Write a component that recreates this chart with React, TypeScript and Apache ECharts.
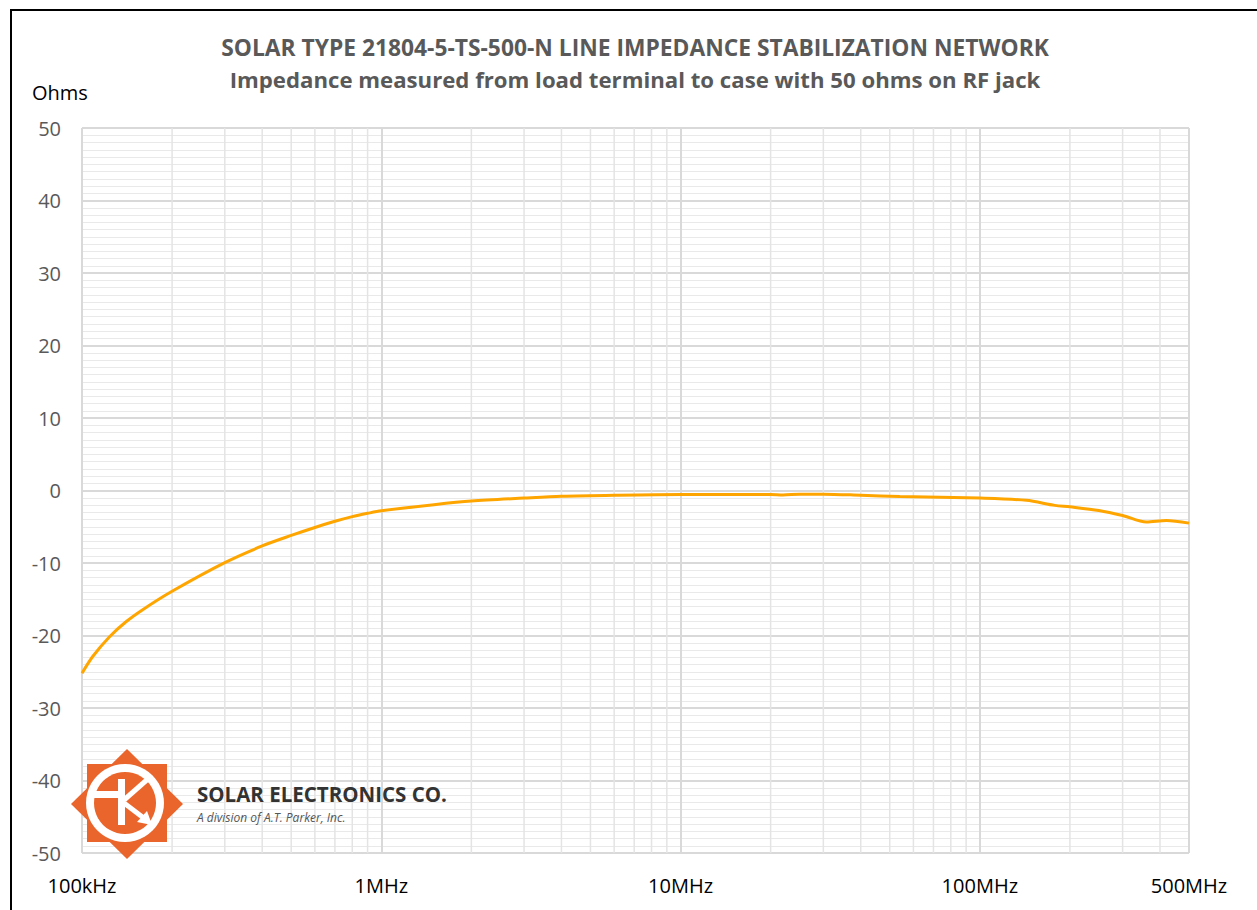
import React, { useEffect, useRef } from "react";
import * as echarts from "echarts";

const freqMHz = [0.1, 0.1086, 0.1234, 0.1403, 0.16, 0.2, 0.3, 0.4, 0.5, 0.6, 0.7, 0.8, 0.9, 1, 1.5, 2, 3, 4, 6, 10, 20, 22, 25, 30, 40, 54, 100, 143, 178, 200, 250, 300, 360, 420, 500];
const ohms = [-25.2, -22.9, -20.2, -18.1, -16.4, -13.9, -9.95, -7.65, -6.2, -5.1, -4.25, -3.6, -3.15, -2.8, -1.95, -1.45, -1.05, -0.8, -0.65, -0.55, -0.55, -0.62, -0.5, -0.5, -0.65, -0.83, -1.05, -1.35, -2.05, -2.25, -2.75, -3.45, -4.35, -4.15, -4.5];
const yTicks = { min: -50, max: 50, interval: 10 };
const titleLine1 = "SOLAR TYPE 21804-5-TS-500-N LINE IMPEDANCE STABILIZATION NETWORK";
const titleLine2 = "Impedance measured from load terminal to case with 50 ohms on RF jack";

const ORANGE = "#EA652B";

function fmtFreq(v: number): string {
  if (v >= 1e6 - 1) return Math.round(v / 1e6) + "MHz";
  return Math.round(v / 1e3) + "kHz";
}

export default function App() {
  const ref = useRef<HTMLDivElement>(null);
  useEffect(() => {
    if (!ref.current) return;
    const chart = echarts.init(ref.current, null, { renderer: "svg" });
    const minorX: number[][] = [];
    for (let d = 1e5; d <= 1e8; d *= 10) {
      for (let k = 2; k <= 9; k++) {
        if (k * d < 5e8) minorX.push([k * d, 0]);
      }
    }
    const font = "'Open Sans', sans-serif";
    const Z = 200;
    chart.setOption({
      animation: false,
      backgroundColor: "#ffffff",
      title: {
        text: titleLine1,
        subtext: titleLine2,
        left: 630,
        top: 31,
        textAlign: "center",
        itemGap: 9,
        textStyle: { fontFamily: font, fontSize: 22.8, fontWeight: "bold", color: "#595959" },
        subtextStyle: { fontFamily: font, fontSize: 22.2, fontWeight: "bold", color: "#595959" },
      },
      grid: { left: 82, right: 68, top: 128, bottom: 57, containLabel: false },
      xAxis: {
        type: "log",
        logBase: 10,
        min: 1e5,
        max: 5e8,
        axisLine: { show: false },
        axisTick: { show: false },
        axisLabel: {
          formatter: fmtFreq,
          color: "#000000",
          fontFamily: font,
          fontSize: 20,
          margin: 22,
          showMaxLabel: true,
          showMinLabel: true,
        },
        splitLine: { show: true, lineStyle: { color: "#d9d9d9", width: 2 } },
      },
      yAxis: {
        type: "value",
        min: yTicks.min,
        max: yTicks.max,
        interval: yTicks.interval,
        axisLine: { show: false },
        axisTick: { show: false },
        minorTick: { show: false, splitNumber: 10 },
        axisLabel: { color: "#595959", fontFamily: font, fontSize: 20, margin: 21 },
        splitLine: { show: true, lineStyle: { color: "#d9d9d9", width: 2 } },
        minorSplitLine: { show: true, lineStyle: { color: "#e9e9e9", width: 1 } },
      },
      series: [
        {
          type: "custom",
          z: 1,
          silent: true,
          data: minorX,
          encode: { x: 0, y: 1 },
          renderItem: (params: any, api: any) => {
            const f = api.value(0);
            const p1 = api.coord([f, yTicks.max]);
            const p2 = api.coord([f, yTicks.min]);
            return {
              type: "line",
              shape: { x1: p1[0], y1: p1[1], x2: p2[0], y2: p2[1] },
              style: { stroke: "#e4e4e4", lineWidth: 1.5 },
            };
          },
        },
        {
          type: "line",
          z: 5,
          smooth: 0.3,
          symbol: "none",
          data: freqMHz.map((f, i) => [f * 1e6, ohms[i]]),
          lineStyle: { color: "#FFA500", width: 3 },
        },
      ],
      graphic: [
        {
          type: "rect",
          shape: { x: 11, y: 10, width: 1400, height: 1000 },
          style: { fill: "none", stroke: "#000000", lineWidth: 2 },
          silent: true,
          z: Z,
        },
        {
          type: "text",
          x: 32,
          y: 92,
          z: Z,
          style: { text: "Ohms", font: `20px ${font}`, fill: "#000000", textVerticalAlign: "middle" },
        },
        { type: "polygon", z: Z, shape: { points: [[127, 749], [183, 804], [127, 859], [71, 804]] }, style: { fill: ORANGE } },
        { type: "rect", z: Z, shape: { x: 87, y: 764, width: 80, height: 78 }, style: { fill: ORANGE } },
        { type: "circle", z: Z + 1, shape: { cx: 125, cy: 803, r: 39 }, style: { fill: "#ffffff" } },
        { type: "circle", z: Z + 2, shape: { cx: 125, cy: 803, r: 31 }, style: { fill: ORANGE } },
        { type: "rect", z: Z + 3, shape: { x: 118, y: 779, width: 7, height: 46 }, style: { fill: "#ffffff" } },
        { type: "rect", z: Z + 3, shape: { x: 94, y: 791, width: 26, height: 7 }, style: { fill: "#ffffff" } },
        { type: "line", z: Z + 3, shape: { x1: 124, y1: 800, x2: 149, y2: 778 }, style: { stroke: "#ffffff", lineWidth: 5 } },
        { type: "line", z: Z + 3, shape: { x1: 124, y1: 803, x2: 145, y2: 819 }, style: { stroke: "#ffffff", lineWidth: 5 } },
        { type: "polygon", z: Z + 3, shape: { points: [[152, 825], [137, 822], [147, 811]] }, style: { fill: "#ffffff" } },
        {
          type: "text",
          x: 197,
          y: 794,
          z: Z,
          style: { text: "SOLAR ELECTRONICS CO.", font: `bold 20.5px ${font}`, fill: "#333333", textVerticalAlign: "middle" },
        },
        {
          type: "text",
          x: 197,
          y: 817,
          z: Z,
          style: { text: "A division of A.T. Parker, Inc.", font: `italic 12px ${font}`, fill: "#555555", textVerticalAlign: "middle" },
        },
      ],
    });
    return () => chart.dispose();
  }, []);
  return <div ref={ref} style={{ position: "fixed", left: 0, top: 0, width: 1257, height: 910 }} />;
}
